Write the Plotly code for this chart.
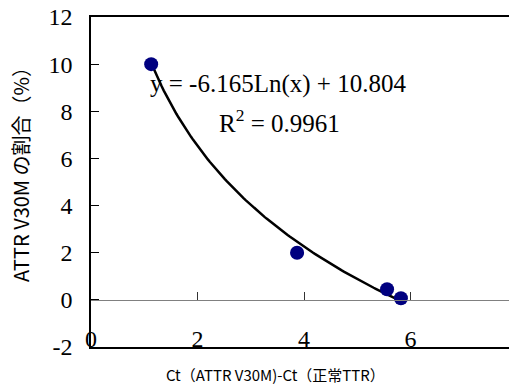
import numpy as np
import plotly.graph_objects as go

# data
x_vals = [1.13, 3.87, 5.56, 5.82]
y_vals = [10.0, 2.0, 0.45, 0.07]
fit_a = -6.165   # coefficient of Ln(x)
fit_b = 10.804   # intercept
r2 = 0.9961
x_ticks = [0, 2, 4, 6, 8]
y_ticks = [-2, 0, 2, 4, 6, 8, 10, 12]
x_range = [0, 8]
y_range = [-2, 12]

x_title = "Ct（ATTR V30M)-Ct（正常TTR）"
y_title = "ATTR V30M の割合（%）"

serif = "Liberation Serif, Times New Roman, serif"
sans = "Noto Sans CJK JP, sans-serif"

# trendline from the displayed logarithmic fit
xf = np.linspace(min(x_vals), max(x_vals), 120)
yf = fit_a * np.log(xf) + fit_b

fig = go.Figure()
fig.add_trace(go.Scatter(x=xf, y=yf, mode="lines",
                         line=dict(color="black", width=2.5),
                         hoverinfo="skip", showlegend=False))
fig.add_trace(go.Scatter(x=x_vals, y=y_vals, mode="markers",
                         marker=dict(color="#000080", size=14),
                         showlegend=False, cliponaxis=False))
# trace placed on the y=0 crossing axis so it renders
fig.add_trace(go.Scatter(x=[None], y=[None], xaxis="x2", yaxis="y",
                         showlegend=False, hoverinfo="skip"))

fig.update_layout(
    width=509, height=380,
    margin=dict(l=83, r=0, t=9, b=41, autoexpand=False),
    paper_bgcolor="white", plot_bgcolor="white",
    showlegend=False,
    xaxis=dict(range=x_range, tickvals=x_ticks,
               ticktext=[str(v) for v in x_ticks],
               showgrid=False, zeroline=False,
               showline=True, linecolor="black", linewidth=1.5, mirror=True,
               ticks="", tickfont=dict(family=serif, size=24, color="black"),
               ticklabelstandoff=-31, ticklabeloverflow="allow"),
    xaxis2=dict(range=x_range, overlaying="x", anchor="free",
                position=(0 - y_range[0]) / (y_range[1] - y_range[0]),
                tickvals=x_ticks, ticks="inside", ticklen=8, tickcolor="#333",
                showticklabels=False, showgrid=False, zeroline=False,
                showline=True, linecolor="#808080", linewidth=1),
    yaxis=dict(range=y_range, tickvals=y_ticks,
               ticktext=[str(v) for v in y_ticks],
               showgrid=False, zeroline=False,
               showline=True, linecolor="black", linewidth=1.5,
               ticks="inside", ticklen=8, tickcolor="black",
               tickfont=dict(family=serif, size=24, color="black"),
               ticklabelstandoff=12, ticklabeloverflow="allow"),
)

fig.add_annotation(text=y_title, xref="paper", yref="paper",
                   x=-0.164, y=0.537, textangle=-90, showarrow=False,
                   font=dict(family=sans, size=20, color="black"),
                   xanchor="center", yanchor="middle")
fig.add_annotation(text=x_title, xref="paper", yref="paper",
                   x=0.432, y=-0.082, showarrow=False,
                   font=dict(family=sans, size=15, color="black"),
                   xanchor="center", yanchor="middle")
fig.add_annotation(text="y = %.3fLn(x) + %.3f" % (fit_a, fit_b),
                   xref="paper", yref="paper", x=0.134, y=0.797,
                   showarrow=False, xanchor="left", yanchor="middle",
                   font=dict(family=serif, size=25, color="black"))
fig.add_annotation(text="R<sup>2</sup> = %.4f" % r2,
                   xref="paper", yref="paper", x=0.296, y=0.685,
                   showarrow=False, xanchor="left", yanchor="middle",
                   font=dict(family=serif, size=25, color="black"))

fig.write_html("out.html")
